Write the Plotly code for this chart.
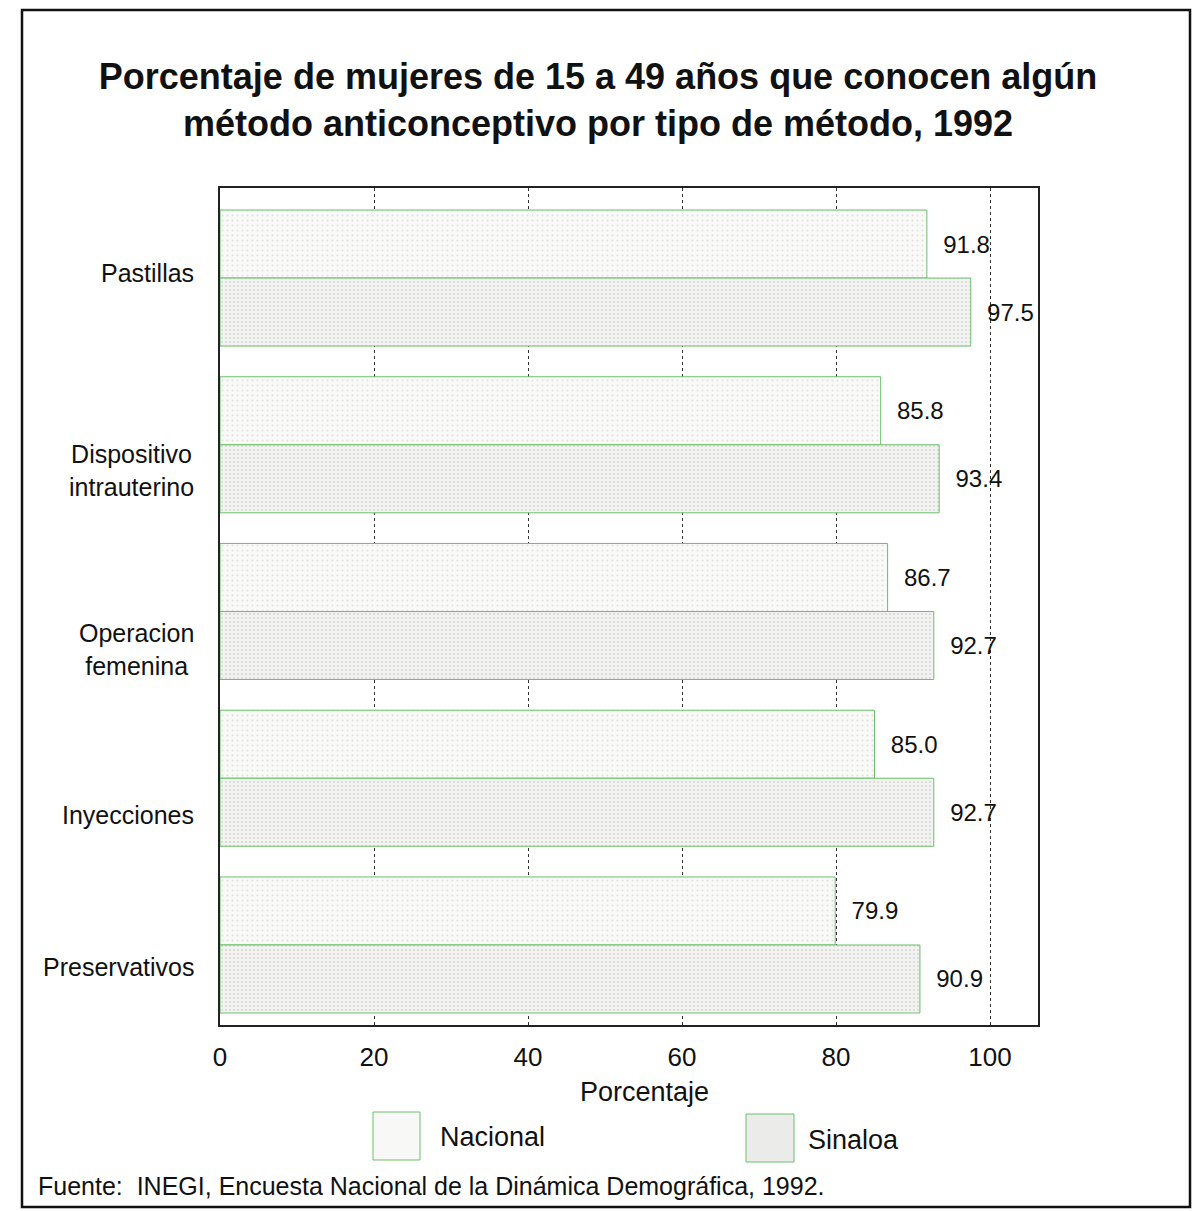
import plotly.graph_objects as go

categories = ["Pastillas", "Dispositivo<br>intrauterino", "Operacion<br>femenina", "Inyecciones", "Preservativos"]
nacional = [91.8, 85.8, 86.7, 85.0, 79.9]
sinaloa = [97.5, 93.4, 92.7, 92.7, 90.9]
x_ticks = [0, 20, 40, 60, 80, 100]
label_shift = [5, -26, -38, -37, -22]  # vertical offsets (px) of category labels, as in original layout

W, H = 1196, 1211
L, R, T, B = 220, 1038, 188, 1025  # plot area in pixels

def px(x):
    return (x - L) / (R - L)

def py(y):
    return (B - y) / (B - T)

FONT = "Liberation Sans, Arial, sans-serif"
GREEN = "#6cbf6c"
NB = "\u00a0\u00a0"

fig = go.Figure()
fig.add_trace(go.Bar(
    y=categories, x=nacional, orientation="h", name="Nacional",
    marker=dict(color="#f8f8f6", line=dict(color=GREEN, width=1),
                pattern=dict(shape=".", fgcolor="#c8c8c8", bgcolor="#f9f9f7", size=5, solidity=0.12)),
    texttemplate=NB + "%{x:.1f}", textposition="outside",
    textfont=dict(size=24, color="#111111", family=FONT), cliponaxis=False,
))
fig.add_trace(go.Bar(
    y=categories, x=sinaloa, orientation="h", name="Sinaloa",
    marker=dict(color="#f0f0ee", line=dict(color=GREEN, width=1),
                pattern=dict(shape=".", fgcolor="#b8b8b8", bgcolor="#f2f2f0", size=4, solidity=0.2)),
    texttemplate=NB + "%{x:.1f}", textposition="outside",
    textfont=dict(size=24, color="#111111", family=FONT), cliponaxis=False,
))

fig.update_layout(
    width=W, height=H,
    margin=dict(l=L, r=W - R, t=T, b=H - B),
    paper_bgcolor="white", plot_bgcolor="white",
    barmode="group", bargap=0.184, bargroupgap=0,
    showlegend=False,
    font=dict(family=FONT, color="#111111"),
    title=dict(text="<b>Porcentaje de mujeres de 15 a 49 años que conocen algún<br>método anticonceptivo por tipo de método, 1992</b>",
               x=598 / W, xanchor="center", y=1 - 89 / H, yanchor="middle",
               font=dict(size=36, family=FONT, color="#111111")),
    xaxis=dict(range=[0, (R - L) / 7.7], tickvals=x_ticks, ticktext=[str(v) for v in x_ticks],
               showgrid=True, gridcolor="#333333", griddash="dot", gridwidth=1,
               zeroline=False, showline=True, linecolor="#222222", linewidth=2, mirror=True,
               ticks="", tickfont=dict(size=26, family=FONT, color="#111111"),
               ticklabelstandoff=8),
    yaxis=dict(range=[4.48, -0.54], showgrid=False, showline=True, linecolor="#222222",
               linewidth=2, mirror=True, ticks="", showticklabels=False),
)

shapes = [
    dict(type="rect", xref="paper", yref="paper", x0=px(22), x1=px(1190), y0=py(1207), y1=py(10),
         line=dict(color="#111111", width=2.5), fillcolor="rgba(0,0,0,0)", layer="below"),
    dict(type="rect", xref="paper", yref="paper", x0=px(373), x1=px(420), y0=py(1160), y1=py(1112),
         line=dict(color=GREEN, width=1), fillcolor="#f8f8f6"),
    dict(type="rect", xref="paper", yref="paper", x0=px(746), x1=px(794), y0=py(1162), y1=py(1114),
         line=dict(color=GREEN, width=1), fillcolor="#ebebe9"),
]
annotations = []
for cat, dy in zip(categories, label_shift):
    annotations.append(dict(text=cat, xref="paper", yref="y", x=px(196), y=cat, yshift=dy,
                            xanchor="right", yanchor="middle", align="center", showarrow=False,
                            font=dict(size=25, family=FONT, color="#111111")))
annotations += [
    dict(text="Porcentaje", xref="paper", yref="paper", x=px(644), y=py(1092), xanchor="center", yanchor="middle",
         showarrow=False, font=dict(size=27, family=FONT, color="#111111")),
    dict(text="Nacional", xref="paper", yref="paper", x=px(438), y=py(1137), xanchor="left", yanchor="middle",
         showarrow=False, font=dict(size=27, family=FONT, color="#111111")),
    dict(text="Sinaloa", xref="paper", yref="paper", x=px(806), y=py(1140), xanchor="left", yanchor="middle",
         showarrow=False, font=dict(size=27, family=FONT, color="#111111")),
    dict(text="Fuente:  INEGI, Encuesta Nacional de la Dinámica Demográfica, 1992.", xref="paper", yref="paper",
         x=px(36), y=py(1186), xanchor="left", yanchor="middle",
         showarrow=False, font=dict(size=25, family=FONT, color="#111111")),
]
fig.update_layout(shapes=shapes, annotations=annotations)

fig.write_html("out.html", config={"displayModeBar": False},
               post_script="document.body.style.margin='0';document.body.style.overflow='hidden';")
